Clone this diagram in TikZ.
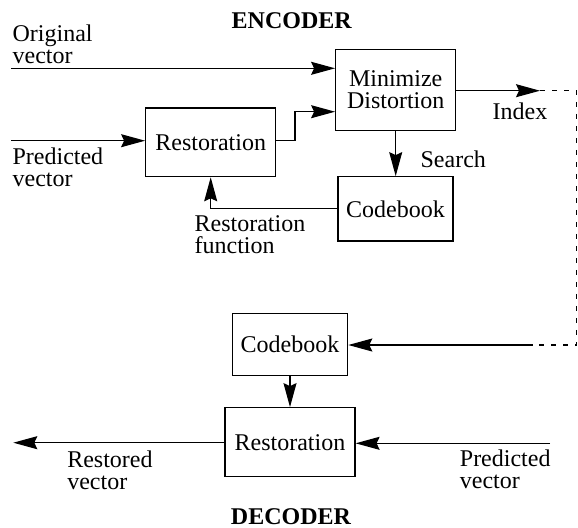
\documentclass[tikz,border=0pt]{standalone}
\usepackage{fontspec}
\setmainfont{Liberation Serif}
\usetikzlibrary{arrows.meta}
\tikzset{
	blk/.style={draw,inner sep=0pt,align=center},
	arr/.style={-{Stealth[length=12pt,width=6.5pt,inset=1.5pt]}},
	lnk/.style={dash pattern=on 2.5pt off 3.5pt},
	lbl/.style={anchor=north west,inner sep=0pt,align=left},
	ttl/.style={font=\fontsize{12}{11}\selectfont\bfseries,inner sep=0pt,anchor=base}
}
\begin{document}
\begin{tikzpicture}[x=0.5pt,y=-0.5pt,line width=0.6pt,font=\fontsize{12}{11}\selectfont]
		\useasboundingbox (0,0) rectangle (578,527);
		\node[blk,minimum width=65pt,minimum height=34.35pt] (restEnc) at (210.7,142.35) {Restoration};
		\node[blk,minimum width=60pt,minimum height=40.7pt] (minDist) at (395.7,90) {Minimize\\Distortion};
		\node[blk,minimum width=57.5pt,minimum height=32.15pt] (codeEnc) at (395.5,208.85) {Codebook};
		\node[blk,minimum width=57.7pt,minimum height=31.2pt] (codeDec) at (290,344.5) {Codebook};
		\node[blk,minimum width=65pt,minimum height=34.5pt] (restDec) at (290,442.2) {Restoration};
		\node[lbl] (origTxt) at (12,24.5) {Original\\vector};
		\node[lbl] (predEncTxt) at (12,147) {Predicted\\vector};
		\node[lbl] (idxTxt) at (492,102.5) {Index};
		\node[lbl] (srchTxt) at (420,150) {Search};
		\node[lbl] (rfTxt) at (194,215) {Restoration\\function};
		\node[lbl] (predDecTxt) at (459.3,449) {Predicted\\vector};
		\node[lbl] (rvTxt) at (66.7,450) {Restored\\vector};
		\node[ttl] (encTtl) at (291.7,28) {ENCODER};
		\node[ttl] (decTtl) at (291,524.6) {DECODER};
		\coordinate (origIn) at (11,68.3);
		\coordinate (predIn) at (11,140.7);
		\coordinate (bend) at (295,111.7);
		\coordinate (idxTip) at (540,90.7);
		\coordinate (dashTop) at (576.8,90.7);
		\coordinate (dashBot) at (576.8,345);
		\coordinate (idxIn) at (531.7,345);
		\coordinate (predDecIn) at (550,443.3);
		\coordinate (restOut) at (13.3,442.7);
		\draw[arr] (origIn) -- (origIn -| minDist.west);
		\draw[arr] (predIn) -- (predIn -| restEnc.west);
		\draw[arr] (predIn -| restEnc.east) -| (bend) -- (bend -| minDist.west);
		\draw[arr] (minDist.south) -- (minDist.south |- codeEnc.north);
		\draw[arr] (codeEnc.west) -| (restEnc.south);
		\draw[arr] (minDist.east |- idxTip) -- (idxTip);
		\draw[lnk] (idxTip) -- (dashTop) -- (dashBot) -- (idxIn);
		\draw[arr] (idxIn) -- (idxIn -| codeDec.east);
		\draw[arr] (codeDec.south) -- (restDec.north);
		\draw[arr] (predDecIn) -- (predDecIn -| restDec.east);
		\draw[arr] (restDec.west |- restOut) -- (restOut);
\end{tikzpicture}
\end{document}
